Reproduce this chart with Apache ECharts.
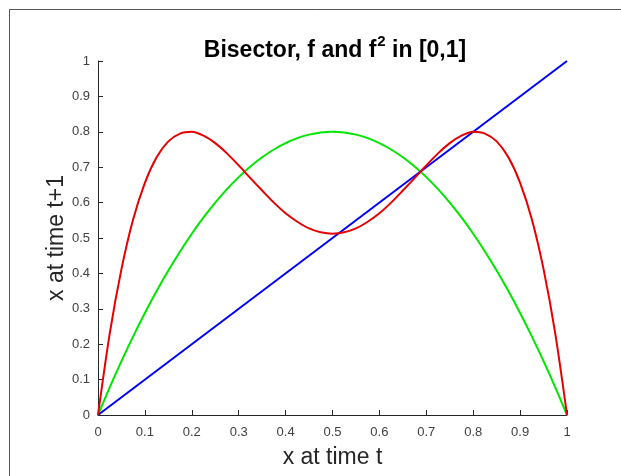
<!DOCTYPE html>
<html><head><meta charset="utf-8">
<script src="https://cdn.jsdelivr.net/npm/echarts@6/dist/echarts.min.js"></script>
<style>html,body{margin:0;padding:0;background:#fff}#c{width:621px;height:476px}</style>
</head><body><div id="c"></div>
<script>
const xs = [0,0.025,0.05,0.075,0.1,0.125,0.15,0.175,0.2,0.225,0.25,0.275,0.3,0.325,0.35,0.375,0.4,0.425,0.45,0.475,0.5,
  0.525,0.55,0.575,0.6,0.625,0.65,0.675,0.7,0.725,0.75,0.775,0.8,0.825,0.85,0.875,0.9,0.925,0.95,0.975,1];
const fVals = [0,0.078,0.152,0.222,0.288,0.35,0.408,0.462,0.512,0.558,0.6,0.638,0.672,0.702,0.728,0.75,0.768,0.782,0.792,0.798,0.8,
  0.798,0.792,0.782,0.768,0.75,0.728,0.702,0.672,0.638,0.6,0.558,0.512,0.462,0.408,0.35,0.288,0.222,0.152,0.078,0];
const f2Vals = [0,0.230,0.412,0.553,0.656,0.728,0.773,0.795,0.800,0.789,0.768,0.739,0.705,0.669,0.634,0.6,0.570,0.546,0.527,0.516,0.512,
  0.516,0.527,0.546,0.570,0.6,0.634,0.669,0.705,0.739,0.768,0.789,0.800,0.795,0.773,0.728,0.656,0.553,0.412,0.230,0];
const bisX = [0,1];
const bisY = [0,1];
const xTicks = [0,0.1,0.2,0.3,0.4,0.5,0.6,0.7,0.8,0.9,1];
const yTicks = [0,0.1,0.2,0.3,0.4,0.5,0.6,0.7,0.8,0.9,1];

const pair = (a,b)=>a.map((v,i)=>[v,b[i]]);
const fmt = v => String(Math.round(v*10)/10);
const chart = echarts.init(document.getElementById('c'), null, {renderer:'canvas'});
const FONT = '"Liberation Sans", Arial, sans-serif';
chart.setOption({
  animation:false,
  backgroundColor:'#fff',
  title:{
    text:'{a|Bisector, f and f}{s|2}{a| in [0,1]}',
    left:330, top:29, textAlign:'center',
    textStyle:{rich:{
      a:{fontFamily:FONT,fontWeight:'bold',fontSize:23,color:'#000',verticalAlign:'bottom',lineHeight:28},
      s:{fontFamily:FONT,fontWeight:'bold',fontSize:15,color:'#000',verticalAlign:'top',lineHeight:28,padding:[0,0,11,1]}
    }}
  },
  graphic:[
    {type:'line',shape:{x1:9.5,y1:9.5,x2:621,y2:9.5},style:{stroke:'#555',lineWidth:1}},
    {type:'line',shape:{x1:9.5,y1:9.5,x2:9.5,y2:476},style:{stroke:'#555',lineWidth:1}}
  ],
  grid:{left:98,right:54,top:61,bottom:61,containLabel:false},
  xAxis:{
    type:'value',min:0,max:1,interval:0.1,
    name:'x at time t',nameLocation:'middle',nameGap:31,nameMoveOverlap:false,
    nameTextStyle:{fontFamily:FONT,fontSize:23,color:'#262626'},
    axisLine:{show:true,lineStyle:{color:'#262626',width:1}},
    axisTick:{show:true,inside:true,length:5,lineStyle:{color:'#262626'}},
    axisLabel:{fontFamily:FONT,fontSize:13,color:'#404040',margin:11,formatter:fmt},
    splitLine:{show:false}
  },
  yAxis:{
    type:'value',min:0,max:1,interval:0.1,
    name:'x at time t+1',nameLocation:'middle',nameGap:30,nameRotate:90,nameMoveOverlap:false,
    nameTextStyle:{fontFamily:FONT,fontSize:23,color:'#262626'},
    axisLine:{show:true,lineStyle:{color:'#262626',width:1}},
    axisTick:{show:true,inside:true,length:5,lineStyle:{color:'#262626'}},
    axisLabel:{fontFamily:FONT,fontSize:13,color:'#404040',margin:8,formatter:fmt},
    splitLine:{show:false}
  },
  series:[
    {type:'line',data:pair(bisX,bisY),showSymbol:false,lineStyle:{color:'#0000ff',width:2},z:3},
    {type:'line',data:pair(xs,fVals),showSymbol:false,smooth:0.3,lineStyle:{color:'#00e600',width:2},z:2},
    {type:'line',data:pair(xs,f2Vals),showSymbol:false,smooth:0.3,lineStyle:{color:'#e60000',width:2},z:4}
  ]
});
</script></body></html>
